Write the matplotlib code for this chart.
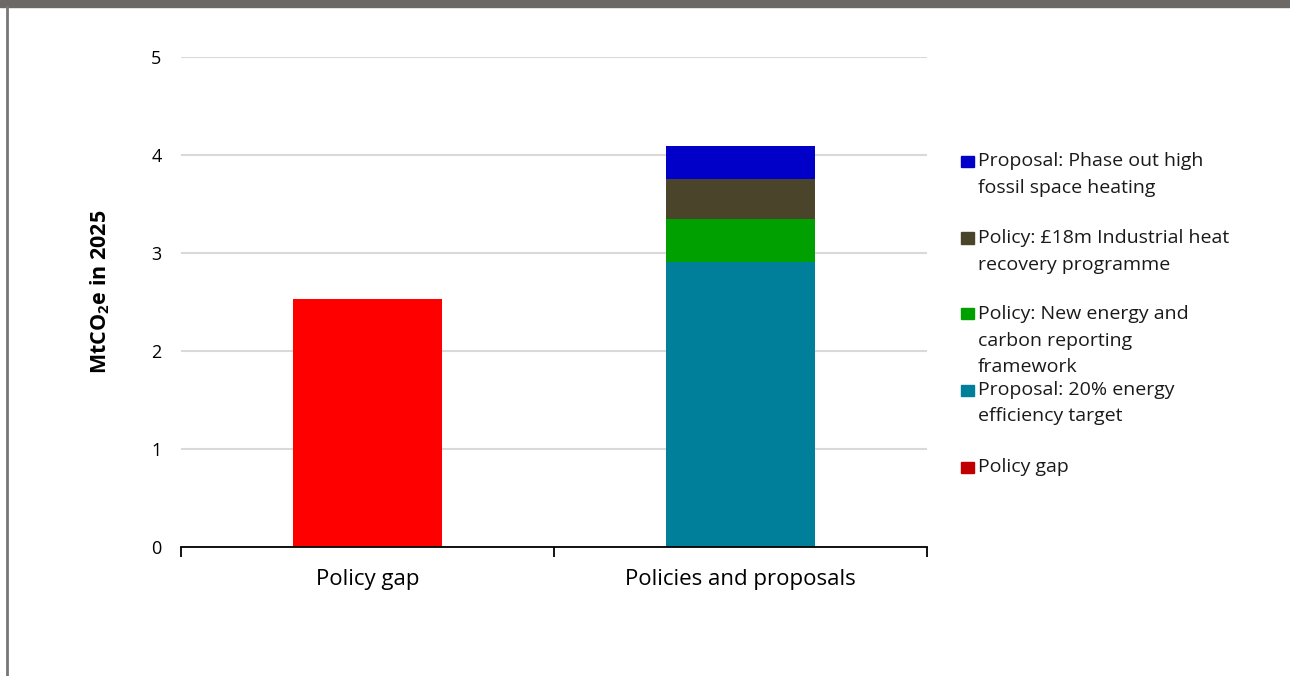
import matplotlib
matplotlib.use("Agg")
import matplotlib.pyplot as plt
from matplotlib.patches import Rectangle
from matplotlib.lines import Line2D

plt.rcParams['font.family'] = ['Open Sans', 'DejaVu Sans']

categories = ["Policy gap", "Policies and proposals"]
series_names = [
    "Policy gap",
    "Proposal: 20% energy\nefficiency target",
    "Policy: New energy and\ncarbon reporting\nframework",
    "Policy: £18m Industrial heat\nrecovery programme",
    "Proposal: Phase out high\nfossil space heating",
]
series_values = [
    [2.53, 0.0],
    [0.0, 2.91],
    [0.0, 0.44],
    [0.0, 0.41],
    [0.0, 0.33],
]
bar_colors = ["#ff0000", "#007f9a", "#00a000", "#4a452a", "#0000c8"]
legend_colors = ["#c00000", "#007f9a", "#00a000", "#4a452a", "#0000c8"]
y_ticks = [0, 1, 2, 3, 4, 5]

W, H = 1290, 676
fig = plt.figure(figsize=(W / 100, H / 100), dpi=100)
ax = fig.add_axes([181 / W, 1 - 547 / H, (927 - 181) / W, (547 - 57) / H])

x = list(range(len(categories)))
bottoms = [0.0] * len(categories)
for name, vals, col in zip(series_names, series_values, bar_colors):
    ax.bar(x, vals, width=0.4, bottom=bottoms, color=col, zorder=3)
    bottoms = [b + v for b, v in zip(bottoms, vals)]

ax.set_xlim(-0.5, len(categories) - 0.5)
ax.set_ylim(0, 5)
ax.set_yticks(y_ticks)
ax.set_yticklabels([str(t) for t in y_ticks], fontsize=13)
ax.yaxis.grid(True, color="#d9d9d9", linewidth=1.5, zorder=0)
ax.set_xticks(x)
ax.set_xticklabels(categories, fontsize=16)
ax.set_xticks([i - 0.5 for i in range(len(categories) + 1)], minor=True)
ax.tick_params(axis="x", which="major", length=0, pad=16)
ax.tick_params(axis="x", which="minor", length=7, width=1.3, color="black", direction="out")
ax.tick_params(axis="y", length=0, pad=14)
for s in ["left", "right", "top"]:
    ax.spines[s].set_visible(False)
ax.spines["bottom"].set_linewidth(1.3)
ax.spines["bottom"].set_zorder(4)
ax.set_ylabel("MtCO$_\\mathregular{2}$e in 2025", fontsize=15.5, fontweight="bold")
ax.yaxis.set_label_coords(-0.108, 0.52)
ax.yaxis.label.set_va("center")

# Legend drawn manually (reverse order, top-down)
starts = [161, 238, 314, 390, 467]
line_h = 26.5
for i, (name, col) in enumerate(zip(series_names[::-1], legend_colors[::-1])):
    yc = starts[i]
    fig.patches.append(Rectangle((961 / W, 1 - (yc + 5.5) / H), 12.5 / W, 11 / H,
                                 transform=fig.transFigure, color=col))
    for j, line in enumerate(name.split("\n")):
        fig.text(978 / W, 1 - (yc + j * line_h) / H, line, fontsize=14,
                 va="center", ha="left", color="#1a1a1a")

# Frame decorations
fig.patches.append(Rectangle((0, 1 - 7 / H), 1, 7 / H, transform=fig.transFigure,
                             color="#6b6866"))
fig.lines.append(Line2D([7 / W, 7 / W], [0, 1 - 7 / H], transform=fig.transFigure,
                        color="#777777", linewidth=2))

fig.savefig("out.png", dpi=100)
